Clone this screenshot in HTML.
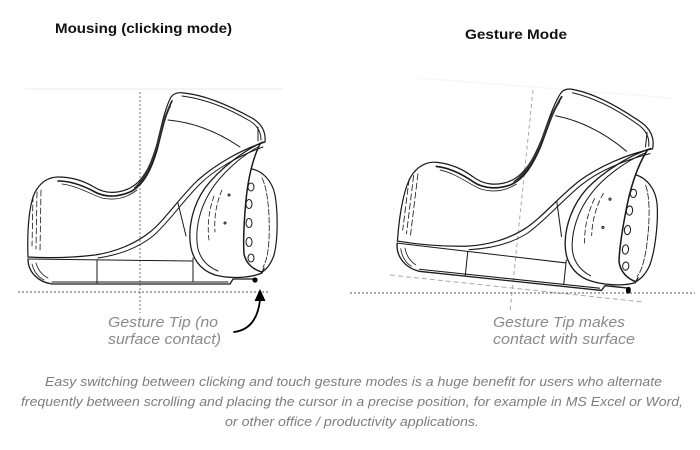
<!DOCTYPE html>
<html>
<head>
<meta charset="utf-8">
<style>
  html,body{margin:0;padding:0;background:#fff;}
  svg{display:block;}
  .t{font-family:"Liberation Sans",sans-serif;}
</style>
</head>
<body>
<svg width="700" height="450" viewBox="0 0 700 450" xmlns="http://www.w3.org/2000/svg">
  <rect width="700" height="450" fill="#fff"/>

  <!-- Titles -->
  <text class="t" x="55" y="33" font-size="14" font-weight="bold" fill="#111" textLength="177" lengthAdjust="spacingAndGlyphs">Mousing (clicking mode)</text>
  <text class="t" x="465" y="39" font-size="14" font-weight="bold" fill="#111" textLength="102" lengthAdjust="spacingAndGlyphs">Gesture Mode</text>

  <!-- faint frames -->
  <line x1="25" y1="89" x2="282" y2="89" stroke="#f5f5f5" stroke-width="2"/>
  <line x1="418" y1="78" x2="672" y2="98" stroke="#f7f7f7" stroke-width="1.5"/>

  <!-- Left guide lines -->
  <line x1="140" y1="92" x2="140" y2="313" stroke="#777" stroke-width="1" stroke-dasharray="2 2"/>
  <line x1="18" y1="292" x2="270" y2="292" stroke="#555" stroke-width="1" stroke-dasharray="2 2"/>

  <!-- Right guide lines -->
  <line x1="533" y1="90" x2="510" y2="312" stroke="#aaa" stroke-width="1" stroke-dasharray="4 3"/>
  <line x1="390" y1="275" x2="643" y2="302" stroke="#aaa" stroke-width="1" stroke-dasharray="5 3"/>
  <line x1="350" y1="293" x2="695" y2="293" stroke="#555" stroke-width="1" stroke-dasharray="2 2"/>

  <!-- LEFT MOUSE -->
  <g fill="none" stroke="#1a1a1a" stroke-width="1" stroke-linecap="round" stroke-linejoin="round">
    <path d="M28,257 C27,230 29,200 37,189 C42,181 50,177 58,177 C72,177 84,181 94,187 C105,194 118,194 130,188 C142,182 150,168 156,148 C161,128 165,108 171,97 C174,93 178,92 184,93 C205,95 230,106 252,118 C262,124 266,132 265,142" stroke-width="1.2"/>
    <path d="M58,181 C72,181 84,186 95,192 C106,198 120,197 132,191 C144,184 151,170 157,150 C162,130 166,112 172,101" stroke-width="1.6"/>
    <path d="M62,184 C78,186 90,194 102,198 C116,201 128,197 137,190" stroke-width="0.8"/>
    <path d="M135,188 C146,178 152,162 158,142 C162,126 166,114 170,106" stroke-width="2" stroke="#333"/>
    <path d="M182,96 C205,99 228,108 250,121 C258,126 261,133 261,140"/>
    <path d="M168,120 C190,122 215,130 240,147"/>
    <path d="M258,127 L258,141"/>
    <path d="M265,142 C240,150 215,165 198,180 C180,197 165,220 150,232 C135,244 115,252 95,255 C70,258 45,258 28,257" stroke-width="1.2"/>
    <path d="M263,147 C238,156 214,170 200,184 C183,201 168,223 153,236 C138,248 118,255 98,258"/>
    <path d="M28,259 C28,272 38,282 52,284 L230,284 L233,279 L254,279" stroke-width="1.3"/>
    <path d="M28,259 L192,261"/>
    <path d="M52,282 L228,282"/>
    <path d="M97,260 L97,283"/>
    <path d="M193,258 L193,282"/>
    <path d="M178,203 L186,236"/>
    <path d="M33,196 L32,246 M37,192 L36,249 M41,190 L40,251" stroke-dasharray="6 3" stroke-width="0.8"/>
    <path d="M32,264 C34,272 38,277 44,280 M36,263 C38,270 42,275 48,278" stroke-width="0.8"/>
    <path d="M263,142 C245,150 220,168 205,188 C193,205 189,225 190,240 C191,258 200,270 215,275 C230,279 250,278 262,273 L264,268" stroke-width="1.3"/>
    <path d="M258,147 C240,157 220,175 210,192 C199,210 196,228 197,242 C198,257 206,266 218,271"/>
    <path d="M214,196 C209,210 207,225 209,240 M222,190 C216,204 214,218 215,232" stroke-dasharray="5 3" stroke-width="0.8"/>
    <path d="M260,144 C252,160 248,180 246,200 C244,222 243,240 244,254 C246,264 254,270 262,272" stroke-width="1.5"/>
    <ellipse cx="251" cy="187" rx="3" ry="4"/>
    <ellipse cx="249" cy="204" rx="3" ry="4.5"/>
    <ellipse cx="249" cy="223" rx="3" ry="4.5"/>
    <ellipse cx="249" cy="242" rx="3" ry="4.5"/>
    <ellipse cx="251" cy="258" rx="3" ry="4"/>
    <circle cx="229" cy="195" r="1"/>
    <circle cx="225" cy="223" r="1"/>
    <path d="M252,169 C262,171 272,180 275,195 C278,212 278,240 274,255 C271,264 266,270 262,272" stroke-width="1.2"/>
    <path d="M262,178 C268,190 270,215 269,240 C268,255 266,262 263,267" stroke-dasharray="6 2" stroke-width="0.8"/>
    <circle cx="255" cy="280" r="2.6" fill="#000" stroke="none"/>
  </g>

  <!-- RIGHT MOUSE (tilted copy) -->
  <g transform="translate(511,202.5) rotate(6) scale(1.03) translate(-133.75,-208.25)" fill="none" stroke="#1a1a1a" stroke-width="1" stroke-linecap="round" stroke-linejoin="round">
    <path d="M28,257 C27,230 29,200 37,189 C42,181 50,177 58,177 C72,177 84,181 94,187 C105,194 118,194 130,188 C142,182 150,168 156,148 C161,128 165,108 171,97 C174,93 178,92 184,93 C205,95 230,106 252,118 C262,124 266,132 265,142" stroke-width="1.2"/>
    <path d="M58,181 C72,181 84,186 95,192 C106,198 120,197 132,191 C144,184 151,170 157,150 C162,130 166,112 172,101" stroke-width="1.6"/>
    <path d="M62,184 C78,186 90,194 102,198 C116,201 128,197 137,190" stroke-width="0.8"/>
    <path d="M135,188 C146,178 152,162 158,142 C162,126 166,114 170,106" stroke-width="2" stroke="#333"/>
    <path d="M182,96 C205,99 228,108 250,121 C258,126 261,133 261,140"/>
    <path d="M168,120 C190,122 215,130 240,147"/>
    <path d="M258,127 L258,141"/>
    <path d="M265,142 C240,150 215,165 198,180 C180,197 165,220 150,232 C135,244 115,252 95,255 C70,258 45,258 28,257" stroke-width="1.2"/>
    <path d="M263,147 C238,156 214,170 200,184 C183,201 168,223 153,236 C138,248 118,255 98,258"/>
    <path d="M28,259 C28,272 38,282 52,284 L230,284 L233,279 L254,279" stroke-width="1.3"/>
    <path d="M28,259 L192,261"/>
    <path d="M52,282 L228,282"/>
    <path d="M97,260 L97,283"/>
    <path d="M193,258 L193,282"/>
    <path d="M178,203 L186,236"/>
    <path d="M33,196 L32,246 M37,192 L36,249 M41,190 L40,251" stroke-dasharray="6 3" stroke-width="0.8"/>
    <path d="M32,264 C34,272 38,277 44,280 M36,263 C38,270 42,275 48,278" stroke-width="0.8"/>
    <path d="M263,142 C245,150 220,168 205,188 C193,205 189,225 190,240 C191,258 200,270 215,275 C230,279 250,278 262,273 L264,268" stroke-width="1.3"/>
    <path d="M258,147 C240,157 220,175 210,192 C199,210 196,228 197,242 C198,257 206,266 218,271"/>
    <path d="M214,196 C209,210 207,225 209,240 M222,190 C216,204 214,218 215,232" stroke-dasharray="5 3" stroke-width="0.8"/>
    <path d="M260,144 C252,160 248,180 246,200 C244,222 243,240 244,254 C246,264 254,270 262,272" stroke-width="1.5"/>
    <ellipse cx="251" cy="187" rx="3" ry="4"/>
    <ellipse cx="249" cy="204" rx="3" ry="4.5"/>
    <ellipse cx="249" cy="223" rx="3" ry="4.5"/>
    <ellipse cx="249" cy="242" rx="3" ry="4.5"/>
    <ellipse cx="251" cy="258" rx="3" ry="4"/>
    <circle cx="229" cy="195" r="1"/>
    <circle cx="225" cy="223" r="1"/>
    <path d="M252,169 C262,171 272,180 275,195 C278,212 278,240 274,255 C271,264 266,270 262,272" stroke-width="1.2"/>
    <path d="M262,178 C268,190 270,215 269,240 C268,255 266,262 263,267" stroke-dasharray="6 2" stroke-width="0.8"/>
    <ellipse cx="256" cy="281" rx="2.4" ry="3.4" fill="#000" stroke="none"/>
  </g>

  <!-- Arrow (left) -->
  <path d="M234,332 C250,330 258,318 260,300" fill="none" stroke="#000" stroke-width="1.8" stroke-linecap="round"/>
  <polygon points="260,289 254.5,301 265.5,301" fill="#000"/>

  <!-- Captions -->
  <g class="t" font-size="15" font-style="italic" fill="#8a8a8a">
    <text x="108" y="327" textLength="110" lengthAdjust="spacingAndGlyphs">Gesture Tip (no</text>
    <text x="108" y="344" textLength="113" lengthAdjust="spacingAndGlyphs">surface contact)</text>
    <text x="493" y="327" textLength="132" lengthAdjust="spacingAndGlyphs">Gesture Tip makes</text>
    <text x="493" y="344" textLength="142" lengthAdjust="spacingAndGlyphs">contact with surface</text>
  </g>

  <!-- Body text -->
  <g class="t" font-size="13" font-style="italic" fill="#7d7d7d">
    <text x="45" y="386" textLength="617" lengthAdjust="spacingAndGlyphs">Easy switching between clicking and touch gesture modes is a huge benefit for users who alternate</text>
    <text x="21" y="406" textLength="662" lengthAdjust="spacingAndGlyphs">frequently between scrolling and placing the cursor in a precise position, for example in MS Excel or Word,</text>
    <text x="225" y="426" textLength="254" lengthAdjust="spacingAndGlyphs">or other office / productivity applications.</text>
  </g>
</svg>
</body>
</html>
